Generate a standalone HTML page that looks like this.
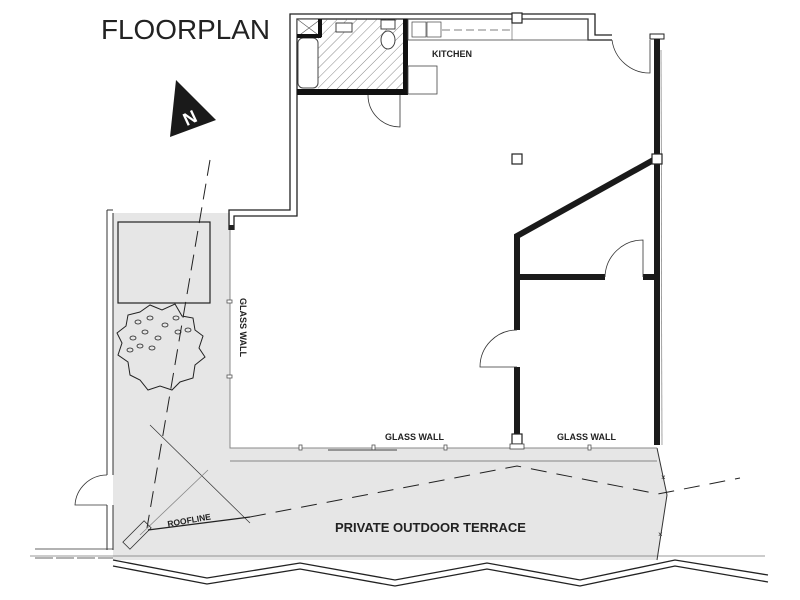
<!DOCTYPE html>
<html><head><meta charset="utf-8"><style>
html,body{margin:0;padding:0;background:#fff;width:800px;height:600px;overflow:hidden}
svg{display:block}
text{font-family:"Liberation Sans",sans-serif;fill:#222}
</style></head><body>
<svg width="800" height="600" viewBox="0 0 800 600" xmlns="http://www.w3.org/2000/svg">
<defs>
<pattern id="h" width="7" height="7" patternUnits="userSpaceOnUse" patternTransform="rotate(45)">
<line x1="0" y1="0" x2="0" y2="7" stroke="#555" stroke-width="0.7"/></pattern>
</defs>
<path d="M113,213 H230 V448 H657 L667,495 L657,560 L113,560 Z" fill="#e6e6e6"/>
<line x1="230" y1="461" x2="657" y2="461" stroke="#666" stroke-width="0.8"/>
<line x1="30" y1="556" x2="765" y2="556" stroke="#777" stroke-width="0.8"/>
<path d="M657,448 L667,495 L657,560" fill="none" stroke="#333" stroke-width="1"/>
<polyline points="230,230 230,448 657,448" fill="none" stroke="#888" stroke-width="1"/>
<g fill="#fff" stroke="#555" stroke-width="0.8">
<rect x="227" y="300" width="5" height="3"/><rect x="227" y="375" width="5" height="3"/>
<rect x="299" y="445" width="3" height="5"/><rect x="372" y="445" width="3" height="5"/><rect x="444" y="445" width="3" height="5"/><rect x="588" y="445" width="3" height="5"/>
</g>
<line x1="328" y1="450" x2="397" y2="450" stroke="#444" stroke-width="1"/>
<path d="M107,210 V475 M113,213 V475 M107,505 V550 M113,505 V550 M107,210 H113" stroke="#333" stroke-width="1" fill="none"/>
<path d="M107,505 H75 A32,32 0 0 1 107,475" fill="none" stroke="#333" stroke-width="0.8"/>
<line x1="35" y1="549" x2="113" y2="549" stroke="#333" stroke-width="0.8"/>
<line x1="35" y1="558" x2="113" y2="558" stroke="#333" stroke-width="0.8" stroke-dasharray="18,3"/>
<path d="M229,230 V210 H290 V14 H595 V35 H612" fill="none" stroke="#222" stroke-width="1.3"/>
<path d="M234,230 V216 H297 V19 H588 V40 H612" fill="none" stroke="#222" stroke-width="1.3"/>
<rect x="229" y="225" width="5" height="5" fill="#222"/>
<path d="M612,40 A38,38 0 0 0 650,73 V40" fill="none" stroke="#333" stroke-width="0.8"/>
<rect x="650" y="34" width="14" height="5" fill="#fff" stroke="#222"/>
<line x1="657" y1="39" x2="657" y2="445" stroke="#1a1a1a" stroke-width="6"/>
<line x1="661" y1="50" x2="662" y2="445" stroke="#666" stroke-width="0.6"/>
<rect x="318" y="19" width="85" height="71" fill="url(#h)"/>
<rect x="297" y="19" width="24" height="18" fill="#fff" stroke="#333"/>
<path d="M297,19 L321,37 M321,19 L297,37" stroke="#555" stroke-width="0.6"/>
<rect x="298" y="38" width="20" height="50" rx="5" fill="#fff" stroke="#444"/>
<rect x="336" y="23" width="16" height="9" fill="#fff" stroke="#444"/>
<ellipse cx="388" cy="40" rx="7" ry="9" fill="#fff" stroke="#444"/>
<rect x="381" y="20" width="14" height="9" fill="#fff" stroke="#444"/>
<rect x="297" y="89" width="111" height="6" fill="#111"/>
<rect x="403" y="19" width="5" height="76" fill="#111"/>
<rect x="318" y="19" width="4" height="18" fill="#111"/>
<rect x="297" y="34" width="24" height="4" fill="#111"/>
<g fill="#fff"><rect x="304" y="15" width="6" height="3"/><rect x="322" y="15" width="6" height="3"/><rect x="340" y="15" width="6" height="3"/><rect x="358" y="15" width="6" height="3"/><rect x="376" y="15" width="6" height="3"/></g>
<path d="M368,95 A32,32 0 0 0 400,127 V95" fill="none" stroke="#333" stroke-width="0.8"/>
<rect x="408" y="19" width="180" height="21" fill="none" stroke="#444" stroke-width="0.8"/>
<line x1="512" y1="19" x2="512" y2="40" stroke="#555" stroke-width="0.6"/>
<rect x="412" y="22" width="14" height="15" fill="none" stroke="#444" stroke-width="0.7"/>
<rect x="427" y="22" width="14" height="15" fill="none" stroke="#444" stroke-width="0.7"/>
<line x1="442" y1="30" x2="512" y2="30" stroke="#555" stroke-dasharray="8,4" stroke-width="0.7"/>
<rect x="408" y="66" width="29" height="28" fill="none" stroke="#444" stroke-width="0.8"/>
<text x="432" y="57" font-size="9" font-weight="bold">KITCHEN</text>
<g fill="#fff" stroke="#222" stroke-width="1.2">
<rect x="512" y="13" width="10" height="10"/><rect x="512" y="154" width="10" height="10"/>
</g>
<path d="M657,158 L517,236 V330 M517,367 V437 M517,277 H605 M643,277 H657" fill="none" stroke="#1a1a1a" stroke-width="6"/>
<path d="M605,277 A38,38 0 0 1 643,240 V277" fill="none" stroke="#333" stroke-width="0.8"/>
<path d="M517,330 A37,37 0 0 0 480,367 H517" fill="none" stroke="#333" stroke-width="0.8"/>
<rect x="652" y="154" width="10" height="10" fill="#fff" stroke="#222" stroke-width="1.2"/>
<rect x="512" y="434" width="10" height="10" fill="#fff" stroke="#222" stroke-width="1.2"/>
<rect x="510" y="444" width="14" height="5" fill="#fff" stroke="#444" stroke-width="0.8"/>
<rect x="118" y="222" width="92" height="81" fill="#e6e6e6" stroke="#222" stroke-width="1.2"/>
<path d="M140,312 L150,305 L162,310 L175,304 L182,316 L193,318 L195,330 L203,336 L199,348 L205,357 L195,365 L193,378 L180,382 L172,390 L160,386 L148,390 L140,380 L130,375 L128,362 L118,355 L122,343 L117,333 L126,326 L128,315 Z" fill="#e6e6e6" stroke="#222" stroke-width="1"/>
<g fill="none" stroke="#222" stroke-width="0.8">
<ellipse cx="138" cy="322" rx="3" ry="2"/><ellipse cx="150" cy="318" rx="3" ry="2"/><ellipse cx="165" cy="325" rx="3" ry="2"/><ellipse cx="176" cy="318" rx="3" ry="2"/><ellipse cx="133" cy="338" rx="3" ry="2"/><ellipse cx="145" cy="332" rx="3" ry="2"/><ellipse cx="158" cy="338" rx="3" ry="2"/><ellipse cx="178" cy="332" rx="3" ry="2"/><ellipse cx="140" cy="346" rx="3" ry="2"/><ellipse cx="152" cy="348" rx="3" ry="2"/><ellipse cx="130" cy="350" rx="3" ry="2"/><ellipse cx="188" cy="330" rx="3" ry="2"/>
</g>
<line x1="210" y1="160" x2="147" y2="528" stroke="#222" stroke-width="1" stroke-dasharray="16,8"/>
<line x1="150" y1="425" x2="250" y2="523" stroke="#333" stroke-width="0.7"/>
<line x1="140" y1="535" x2="208" y2="470" stroke="#888" stroke-width="0.8"/>
<rect x="122" y="530" width="30" height="10" transform="rotate(-45 137 535)" fill="none" stroke="#333" stroke-width="0.8"/>
<line x1="148" y1="530" x2="250" y2="517" stroke="#222" stroke-width="1.3"/>
<polyline points="250,517 517,466 658,494 740,478" fill="none" stroke="#222" stroke-width="1" stroke-dasharray="16,10"/>
<text x="661" y="480" font-size="8">×</text><text x="658" y="537" font-size="8">×</text>
<polyline points="113,560 207,578 300,563 395,580 487,563 580,580 675,560 768,575" fill="none" stroke="#222" stroke-width="1.3"/>
<polyline points="113,566 207,584 300,569 395,586 487,569 580,586 675,566 768,582" fill="none" stroke="#222" stroke-width="1.3"/>
<text x="101" y="39" font-size="28" textLength="169" lengthAdjust="spacingAndGlyphs">FLOORPLAN</text>
<polygon points="176,80 216,120 170,137" fill="#1a1a1a"/>
<text x="183" y="124" font-size="18" font-weight="bold" style="fill:#fff" transform="rotate(-25 190 117)">N</text>
<text x="240" y="298" font-size="9" font-weight="bold" transform="rotate(90 240 298)">GLASS WALL</text>
<text x="385" y="440" font-size="9" font-weight="bold">GLASS WALL</text>
<text x="557" y="440" font-size="9" font-weight="bold">GLASS WALL</text>
<text x="168" y="527" font-size="8.5" font-weight="bold" transform="rotate(-10 168 527)">ROOFLINE</text>
<text x="335" y="532" font-size="13" font-weight="bold">PRIVATE OUTDOOR TERRACE</text>
</svg>
</body></html>
